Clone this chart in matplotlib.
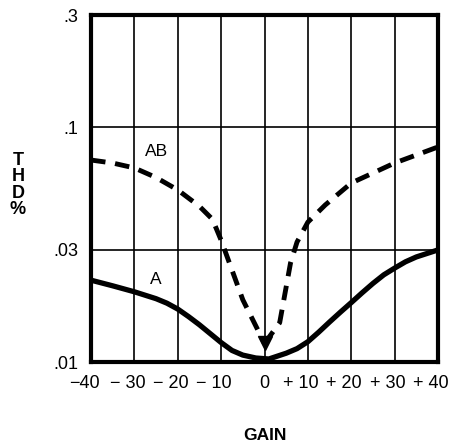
import matplotlib
matplotlib.use("Agg")
import matplotlib.pyplot as plt
from matplotlib.transforms import ScaledTranslation

plt.rcParams['font.family'] = ['Liberation Sans', 'DejaVu Sans']

# Curve A (class A)
a_gain = [-40, -35, -30, -25, -22.5, -20, -17.5, -15, -12.5, -10, -7.5, -5, -2, 1, 5, 7.5,
          10, 12.5, 15, 17.5, 20, 22.5, 25, 27.5, 30, 32.5, 35, 40]
a_thd = [0.0223, 0.0211, 0.0199, 0.0186, 0.0178, 0.0168, 0.0156, 0.0144, 0.0132, 0.0121,
         0.0112, 0.0107, 0.0104, 0.0103, 0.0109, 0.0114, 0.0122, 0.0134, 0.0148, 0.0163,
         0.0179, 0.0197, 0.0216, 0.0235, 0.0251, 0.0267, 0.0280, 0.0300]

# Curve AB (class AB), dashed, ending in an arrow at 0
ab_gain = [-40, -35, -30, -25, -20, -15, -12, -10, -5, 0, 3.5, 6, 7.5, 10, 14, 20, 30, 40]
ab_thd = [0.0724, 0.0703, 0.0670, 0.0610, 0.0540, 0.0460, 0.0405, 0.0330, 0.0184, 0.0120,
          0.0147, 0.0264, 0.0324, 0.0394, 0.0466, 0.0578, 0.0703, 0.0823]

x_ticks = [-40, -30, -20, -10, 0, 10, 20, 30, 40]
x_labels = ["\u221240", "\u2212 30", "\u2212 20", "\u2212 10", "0", "+ 10", "+ 20", "+ 30", "+ 40"]
y_ticks = [0.01, 0.03, 0.1, 0.3]
y_labels = [".01", ".03", ".1", ".3"]

fig = plt.figure(figsize=(4.5, 4.47), dpi=100)
ax = fig.add_axes([91/450, 1 - 362/447, (438 - 91)/450, (362 - 15)/447])
ax.set_yscale('log')
ax.set_xlim(-40, 40)
ax.set_ylim(0.01, 0.3)

ax.minorticks_off()
ax.set_xticks(x_ticks)
ax.set_xticklabels(x_labels, fontsize=13)
ax.set_yticks(y_ticks)
ax.set_yticklabels(y_labels, fontsize=13)
ax.tick_params(length=0, pad=9)
ax.yaxis.set_minor_locator(matplotlib.ticker.NullLocator())

for lab, txt in zip(ax.get_xticklabels(), x_labels):
    if txt != "0":
        lab.set_transform(lab.get_transform() + ScaledTranslation(-7/100, 0, fig.dpi_scale_trans))

ax.grid(True, which='major', color='black', lw=1.2)
for s in ax.spines.values():
    s.set_linewidth(3)

# split AB into two branches meeting at the arrow point
i0 = ab_gain.index(0)
ax.plot(ab_gain[:i0 + 1], ab_thd[:i0 + 1], color='black', lw=3.5, ls=(0, (3.0, 2.0)),
        dash_capstyle='butt', solid_joinstyle='round', zorder=3)
ax.plot(ab_gain[i0:], ab_thd[i0:], color='black', lw=3.5, ls=(0, (3.0, 2.0)),
        dash_capstyle='butt', solid_joinstyle='round', zorder=3)
ax.plot([ab_gain[i0]], [ab_thd[i0]], marker='v', color='black', ms=10, zorder=4)

ax.plot(a_gain, a_thd, color='black', lw=3.8, solid_capstyle='butt',
        solid_joinstyle='round', zorder=3)

ax.text(-25, 0.079, "AB", fontsize=12.5, ha='center', va='center')
ax.text(-25, 0.0224, "A", fontsize=12.5, ha='center', va='center')

fig.text(18/450, 1 - 185/447, "T\nH\nD\n%", fontsize=13, fontweight='bold',
         ha='center', va='center', linespacing=0.95)
fig.text(265/450, 1 - 436/447, "GAIN", fontsize=12.5, fontweight='bold',
         ha='center', va='center')

fig.savefig("out.png", dpi=100)
